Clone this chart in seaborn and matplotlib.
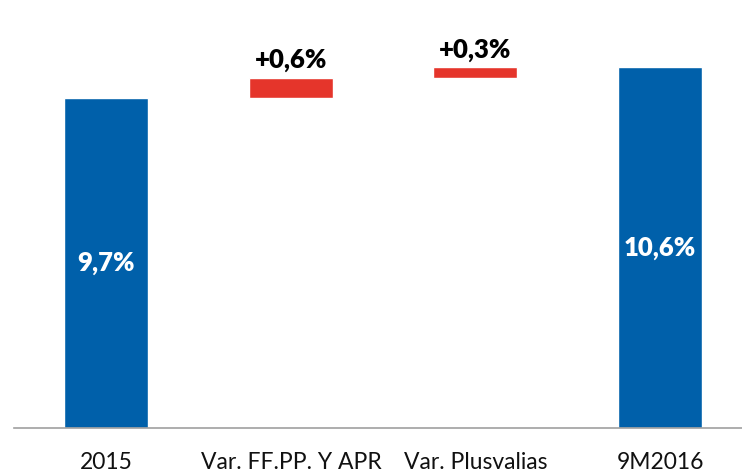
import numpy as np
import pandas as pd
import matplotlib
matplotlib.use("Agg")
import matplotlib.pyplot as plt
import seaborn as sns

# Waterfall: capital ratio walk from 2015 to 9M2016
categories = ["2015", "Var. FF.PP. Y APR", "Var. Plusvalias", "9M2016"]
start_value = 9.7
changes = [0.6, 0.3]
end_value = 10.6
value_labels = ["9,7%", "+0,6%", "+0,3%", "10,6%"]

BLUE = "#0060AA"
RED = "#E5352B"

sns.set_theme(style="white")
plt.rcParams["font.family"] = ["Lato", "DejaVu Sans"]

fig = plt.figure(figsize=(7.42, 4.72), dpi=100)
ax = fig.add_axes([14 / 742, 44 / 472, 1 - 14 / 742, 1 - 44 / 472])

totals = pd.DataFrame({"cat": [categories[0], categories[3]],
                       "val": [start_value, end_value]})
bottoms = start_value + np.concatenate([[0], np.cumsum(changes)[:-1]])
steps = pd.DataFrame({"cat": categories[1:3], "val": changes})

sns.barplot(data=totals, x="cat", y="val", order=categories, color=BLUE,
            saturation=1, width=0.455, ax=ax)
sns.barplot(data=steps, x="cat", y="val", order=categories, color=RED,
            saturation=1, width=0.455, bottom=bottoms, ax=ax)

# value labels
label_style = dict(fontsize=18.5, fontweight="heavy")
ax.text(0, start_value / 2, value_labels[0], ha="center", va="center",
        color="white", **label_style)
ax.text(3, end_value / 2, value_labels[3], ha="center", va="center",
        color="white", **label_style)
for i, (b, c) in enumerate(zip(bottoms, changes)):
    ax.text(i + 1, b + c + 0.17, value_labels[i + 1], ha="center",
            va="bottom", color="black", **label_style)

ax.set_xlim(-0.5, 3.444)
ax.set_ylim(0, 12.58)
ax.set_xlabel("")
ax.set_ylabel("")
ax.set_yticks([])
ax.tick_params(axis="x", length=0, pad=17, labelsize=16.5, colors="#111111")
for s in ["top", "right", "left"]:
    ax.spines[s].set_visible(False)
ax.spines["bottom"].set_color("#A0A0A0")
ax.spines["bottom"].set_linewidth(1.2)

fig.savefig("out.png", dpi=100)
